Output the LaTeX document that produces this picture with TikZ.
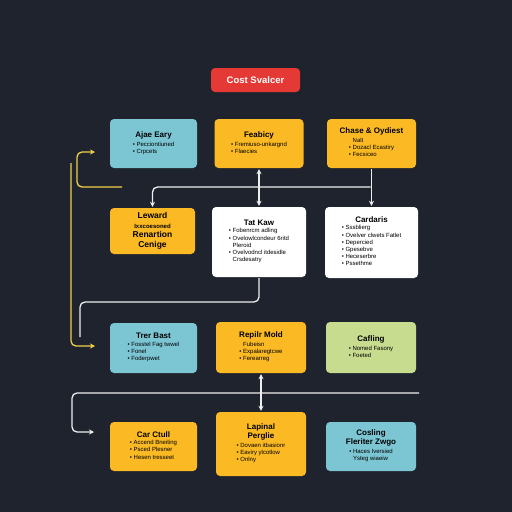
\documentclass[tikz,border=0pt]{standalone}
\usepackage{fontspec}
\setmainfont{Liberation Sans}
\usetikzlibrary{positioning,arrows.meta}

\definecolor{bgdark}{HTML}{1F232E}
\definecolor{tealbox}{HTML}{7CC6D4}
\definecolor{amberbox}{HTML}{FBBA23}
\definecolor{greenbox}{HTML}{C8DC90}
\definecolor{redbox}{HTML}{E53935}
\definecolor{goldline}{HTML}{F2D04A}
\definecolor{wirewhite}{HTML}{EEEEEE}

\newcommand{\bfont}{\fontsize{6}{7.2}\selectfont\mdseries}
\newcommand{\tfont}{\fontsize{8}{9}\selectfont\bfseries}
\newcommand{\cardtext}[2]{#1\\[1pt]{\bfont\begin{tabular}{@{}l@{}}#2\end{tabular}}}
\newcommand{\bl}{\textbullet~}
\newcommand{\nobl}{\hphantom{\textbullet~}}

\tikzset{
  card/.style={rounded corners=4pt,align=center,inner sep=1pt,text=black,font=\tfont},
  tealcard/.style={card,fill=tealbox},
  ambercard/.style={card,fill=amberbox},
  greencard/.style={card,fill=greenbox},
  whitecard/.style={card,fill=white},
  wire/.style={draw=wirewhite,line width=1.3pt,rounded corners=5pt,shorten >=1pt,shorten <=1pt},
  goldwire/.style={draw=goldline,line width=1.3pt,rounded corners=5pt},
  >={Stealth[length=5pt,width=5pt]}
}

\begin{document}
\begin{tikzpicture}[x=1pt,y=-1pt]
		\fill[bgdark] (0,0) rectangle (512,512);

		\node[card,fill=redbox,text=white,minimum width=89pt,minimum height=24pt,font=\fontsize{9.5}{11}\selectfont\bfseries] (title) at (255.5,80) {Cost Svalcer};

		% first row
		\node[tealcard,minimum width=87pt,minimum height=49pt] (ajae) at (153.5,143.5) {\cardtext{Ajae Eary}{\bl Pecciontiuned\\ \bl Crpcets}};
		\node[ambercard,minimum width=89pt,minimum height=49pt] (feab) at (259,143.5) {\cardtext{Feabicy}{\bl Fremiuso-unkargnd\\ \bl Flaecies}};
		\node[ambercard,minimum width=89pt,minimum height=49pt] (chase) at (371.5,143.5) {\cardtext{Chase \& Oydiest}{\nobl Nalt\\ \bl Dozacl Ecastiry\\ \bl Fecsiceo}};

		% second row
		\node[ambercard,minimum width=85pt,minimum height=46pt,font=\fontsize{8.5}{9.5}\selectfont\bfseries] (leward) at (152.5,231) {Leward\\{\fontsize{6}{7}\selectfont Ixxcoesoned}\\Renartion\\Cenige};
		\node[whitecard,minimum width=94pt,minimum height=70pt] (tatkaw) at (259,242) {\cardtext{Tat Kaw}{\bl Fobenrcm adling\\ \bl Ovelowlcondeur 6ritd\\ \nobl Pleroid\\ \bl Ovelvodncl itdesidle\\ \nobl Crsdesatry}};
		\node[whitecard,minimum width=93pt,minimum height=71pt] (cardaris) at (371.5,242.5) {\cardtext{Cardaris}{\bl Sssblierg\\ \bl Ovelver clwets Fatlet\\ \bl Depercied\\ \bl Gpesebve\\ \bl Heceserbre\\ \bl Pssethme}};

		% third row
		\node[tealcard,minimum width=87pt,minimum height=50pt] (trer) at (153.5,348) {\cardtext{Trer Bast}{\bl Fosstel Fag twwel\\ \bl Fonel\\ \bl Foderpwet}};
		\node[ambercard,minimum width=90pt,minimum height=51pt] (repilr) at (261,347.5) {\cardtext{Repilr Mold}{\nobl Fubeisn\\ \bl Expalaregtcwe\\ \bl Ferearreg}};
		\node[greencard,minimum width=90pt,minimum height=51pt] (cafling) at (371,347.5) {\cardtext{Cafling}{\bl Nomed Fasony\\ \bl Foeted}};

		% fourth row
		\node[ambercard,minimum width=87pt,minimum height=49pt] (carctull) at (153.5,446.5) {\cardtext{Car Ctull}{\bl Accend Bneiting\\ \bl Psced Plesner\\ \bl Hesen tresseet}};
		\node[ambercard,minimum width=90pt,minimum height=64pt] (lapinal) at (261,444) {\cardtext{Lapinal\\Perglie}{\bl Dovaen itbasionr\\ \bl Eaviry ylcotlow\\ \bl Onlny}};
		\node[tealcard,minimum width=90pt,minimum height=49pt] (cosling) at (371,446.5) {\cardtext{Cosling\\Fleriter Zwgo}{\bl Haces Iversied\\ \nobl Ysteg wiaeiw}};

		% junctions
		\coordinate (busone) at (0,187);
		\coordinate (goldstart) at (122,187);
		\coordinate (goldbend) at (77,187);
		\coordinate (ajaein) at (95,152);
		\coordinate (goldtop) at (71,163);
		\coordinate (trerin) at (95,346);
		\coordinate (wturn) at (80,302);
		\coordinate (wend) at (80,338);
		\coordinate (bustwor) at (420,393);
		\coordinate (bustwol) at (72,393);
		\coordinate (carin) at (95,432);

		% white connectors
		\draw[wire,->] (chase.south) -- (cardaris.north);
		\draw[wire,->] (chase.south |- busone) -| (leward.north);
		\draw[wire,<->] (feab.south) -- (tatkaw.north);
		\draw[wire] (tatkaw.south) -- (tatkaw.south |- wturn) -| (wend);
		\draw[wire,<->] (repilr.south) -- (lapinal.north);
		\draw[wire,->] (bustwor) -- (bustwol) |- (carin);

		% gold connectors
		\draw[goldwire,->] (goldstart) -- (goldbend) |- (ajaein);
		\draw[goldwire,->] (goldtop) |- (trerin);
	\end{tikzpicture}
\end{document}
